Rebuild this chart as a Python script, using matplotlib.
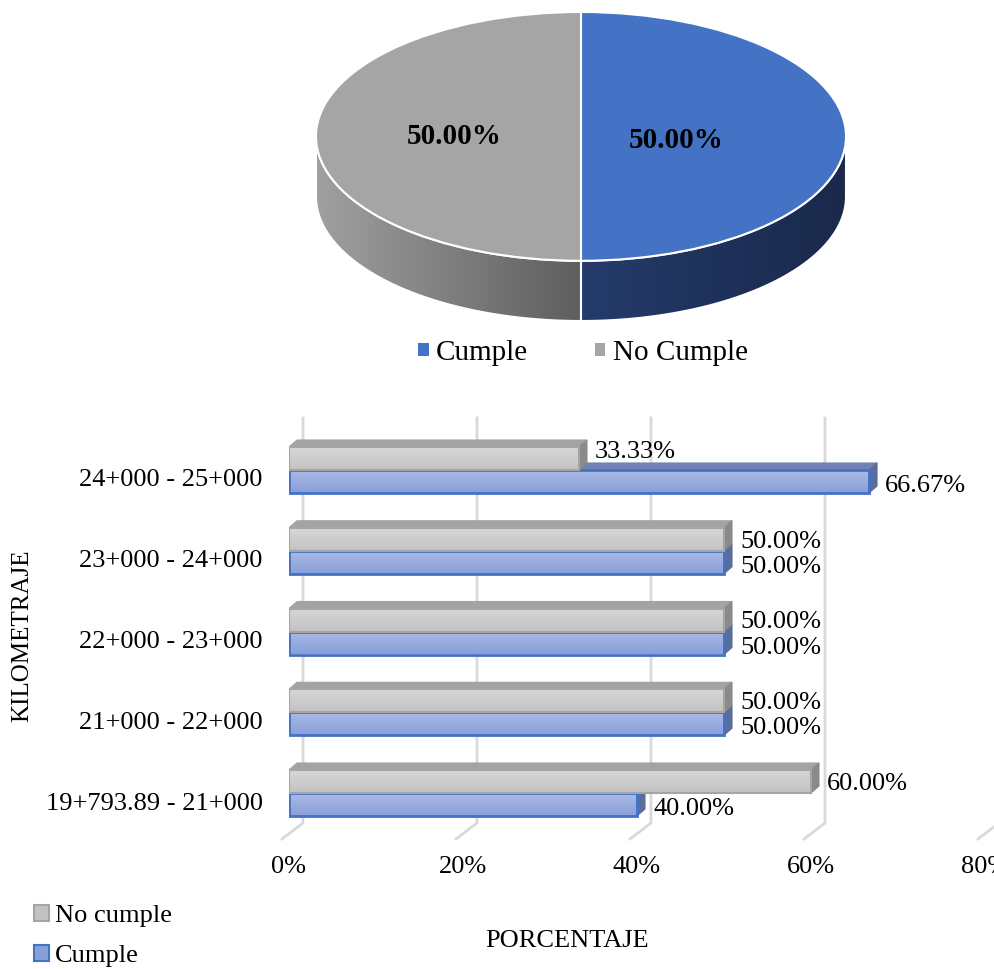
import numpy as np
import matplotlib
matplotlib.use('Agg')
import matplotlib.pyplot as plt
from matplotlib.patches import Polygon, Patch
from matplotlib.colors import LinearSegmentedColormap

plt.rcParams['font.family'] = ['Liberation Serif', 'DejaVu Serif']

# ---------------- data ----------------
pie_labels = ['Cumple', 'No Cumple']
pie_values = [50.00, 50.00]
pie_colors = ['#4472C4', '#A5A5A5']
pie_side_colors = [('#243B6B', '#1A294B'), ('#A0A0A0', '#5E5E5E')]

categories = ['19+793.89 - 21+000', '21+000 - 22+000', '22+000 - 23+000',
              '23+000 - 24+000', '24+000 - 25+000']
cumple = [40.00, 50.00, 50.00, 50.00, 66.67]
no_cumple = [60.00, 50.00, 50.00, 50.00, 33.33]
series_labels = ['No cumple', 'Cumple']
x_ticks = [0, 20, 40, 60, 80]
x_ticklabels = ['0%', '20%', '40%', '60%', '80%']

W, H = 995, 969
fig = plt.figure(figsize=(W / 100, H / 100), dpi=100)


def px_axes(x0, y0, x1, y1):
    return fig.add_axes([x0 / W, 1 - y1 / H, (x1 - x0) / W, (y1 - y0) / H])


# ---------------- 3D pie ----------------
depth = 0.484
axp = px_axes(316, 12, 846, 321)
wedges, _texts, autotexts = axp.pie(
    pie_values, colors=pie_colors, startangle=90, counterclock=False,
    autopct='%.2f%%', pctdistance=0.42,
    wedgeprops=dict(edgecolor='white', linewidth=1.5, zorder=3),
    textprops=dict(fontsize=21, fontweight='bold', color='black'))
label_nudge = [(-0.06, -0.035), (-0.06, 0.0)]
for t, (dx, dy) in zip(autotexts, label_nudge):
    x, y = t.get_position()
    t.set_position((x + dx, y + dy))
    t.set_zorder(6)

grad = np.linspace(0, 1, 256).reshape(1, -1)
for w, (c_lo, c_hi), base in zip(wedges, pie_side_colors, pie_colors):
    ts = np.radians(np.linspace(w.theta1, w.theta2, 721))
    ts = ts[np.sin(ts) <= 1e-9]
    if len(ts) < 2:
        continue
    top = np.column_stack([np.cos(ts), np.sin(ts)])
    bot = np.column_stack([np.cos(ts[::-1]), np.sin(ts[::-1]) - depth])
    poly = Polygon(np.vstack([top, bot]), closed=True, facecolor='none',
                   edgecolor='white', lw=1.5, zorder=2)
    axp.add_patch(poly)
    xc = np.mean(np.cos(ts))
    if xc > 0:
        cmap = LinearSegmentedColormap.from_list('s', [(0, c_lo), (0.5, c_lo), (1, c_hi)])
    else:
        cmap = LinearSegmentedColormap.from_list('s', [(0, c_lo), (0.5, c_hi), (1, c_hi)])
    im = axp.imshow(grad, extent=[-1, 1, -1 - depth, 0], aspect='auto',
                    cmap=cmap, zorder=1)
    im.set_clip_path(poly)

axp.set_aspect('auto')
axp.set_xlim(-1, 1)
axp.set_ylim(-1 - depth, 1)
axp.axis('off')

fig.legend(handles=[Patch(facecolor=c, edgecolor='none') for c in pie_colors],
           labels=pie_labels, loc='center', bbox_to_anchor=(583 / W, 1 - 353 / H),
           ncol=2, frameon=False, fontsize=21, handlelength=0.35,
           handleheight=0.35, handletextpad=0.25, columnspacing=2.3)

# ---------------- 3D horizontal bars ----------------
axb = px_axes(289, 418, 985, 839)
ppx = 696 / 80.0
ppy = 80.75
ylo = -(839 - 793) / ppy
yhi = 4 + (470 - 418) / ppy
axb.set_xlim(0, 80)
axb.set_ylim(ylo, yhi)

gdx = 14 / ppx
fdx = 21 / ppx
y_floor_back = yhi - (823 - 418) / ppy
for t in x_ticks:
    axb.plot([t + gdx, t + gdx, t + gdx - fdx], [yhi, y_floor_back, ylo],
             color='#D9D9D9', lw=2, clip_on=False, zorder=0.5,
             solid_joinstyle='miter')

hb = 23 / ppy
ddx = 8 / ppx
ddy = 7 / ppy
bar_styles = {
    'Cumple': dict(front=('#AABAE5', '#889FD9'), edge='#4472C4', top='#6F82B3',
                   end='#5A6E9E', lw=2.0),
    'No cumple': dict(front=('#D8D8D8', '#C2C2C2'), edge='#A5A5A5', top='#A3A3A3',
                      end='#8A8A8A', lw=1.5),
}
vgrad = np.linspace(0, 1, 64).reshape(-1, 1)


def bar3d(ax, v, y0, y1, st, z):
    cmap = LinearSegmentedColormap.from_list('f', list(st['front']))
    ax.imshow(vgrad, extent=[0, v, y0, y1], origin='upper', aspect='auto',
              cmap=cmap, zorder=z)
    ax.barh((y0 + y1) / 2, v, height=y1 - y0, left=0, facecolor='none',
            edgecolor=st['edge'], lw=st['lw'], zorder=z + 0.1)
    ax.add_patch(Polygon([(0, y1), (v, y1), (v + ddx, y1 + ddy), (ddx, y1 + ddy)],
                         closed=True, facecolor=st['top'], edgecolor=st['top'],
                         lw=0.8, zorder=z + 0.05))
    ax.add_patch(Polygon([(v, y0), (v, y1), (v + ddx, y1 + ddy), (v + ddx, y0 + ddy)],
                         closed=True, facecolor=st['end'], edgecolor=st['end'],
                         lw=0.8, zorder=z + 0.05))


ypos = np.arange(len(categories))
for i in range(len(categories)):
    bar3d(axb, cumple[i], ypos[i] - hb, ypos[i], bar_styles['Cumple'], 2)
    bar3d(axb, no_cumple[i], ypos[i], ypos[i] + hb, bar_styles['No cumple'], 3)

pt = 0.72
for i in range(len(categories)):
    g, b = no_cumple[i], cumple[i]
    gy = 18 if b > g + 1 else 9
    axb.annotate(f'{g:.2f}%', xy=(g, ypos[i]), xytext=(16 * pt, gy * pt),
                 textcoords='offset points', ha='left', va='center',
                 fontsize=19, zorder=6, annotation_clip=False)
    axb.annotate(f'{b:.2f}%', xy=(b, ypos[i]), xytext=(16 * pt, -16 * pt),
                 textcoords='offset points', ha='left', va='center',
                 fontsize=19, zorder=6, annotation_clip=False)

axb.set_yticks(ypos - 8 / ppy)
axb.set_yticklabels(categories, fontsize=19)
axb.set_xticks(x_ticks)
axb.set_xticklabels(x_ticklabels, fontsize=19)
axb.tick_params(axis='y', length=0, pad=19)
axb.tick_params(axis='x', length=0, pad=12)
for s in axb.spines.values():
    s.set_visible(False)
axb.patch.set_visible(False)

fig.text(22 / W, 1 - 636 / H, 'KILOMETRAJE', rotation=90, ha='center',
         va='center', fontsize=18)
fig.text(567 / W, 1 - 941 / H, 'PORCENTAJE', ha='center', va='center',
         fontsize=19)

leg_handles = [Patch(facecolor=bar_styles['No cumple']['front'][1],
                     edgecolor=bar_styles['No cumple']['edge'], lw=1.5),
               Patch(facecolor=bar_styles['Cumple']['front'][1],
                     edgecolor=bar_styles['Cumple']['edge'], lw=1.5)]
fig.legend(handles=leg_handles, labels=series_labels, loc='center left',
           bbox_to_anchor=(34 / W, 1 - 936 / H), frameon=False, fontsize=19,
           handlelength=0.55, handleheight=0.55, handletextpad=0.25,
           labelspacing=0.68, borderaxespad=0, borderpad=0)

fig.savefig('out.png', dpi=100)
